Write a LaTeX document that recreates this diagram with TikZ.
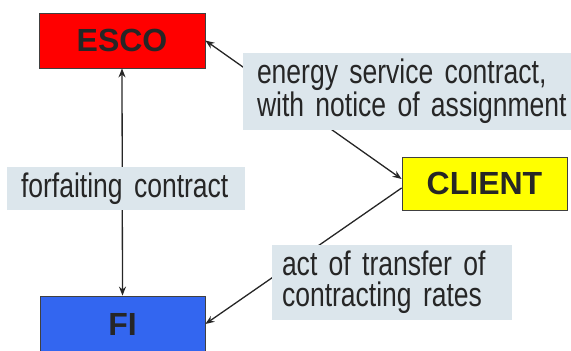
\documentclass[tikz,border=0pt]{standalone}
\usepackage{fontspec}
\setmainfont{Liberation Sans}
\newfontfamily\lblfont[FakeStretch=0.78,WordSpace=0.72]{Liberation Sans}
\usetikzlibrary{arrows.meta}
\definecolor{escored}{RGB}{255,0,0}
\definecolor{clientyellow}{RGB}{255,255,0}
\definecolor{fiblue}{RGB}{51,102,240}
\definecolor{labelfill}{RGB}{220,230,236}
\tikzset{
  entity/.style={draw=black!75, line width=0.8pt, inner sep=0pt,
    font=\fontsize{32}{36}\selectfont\bfseries, text=black!85},
  lbl/.style={fill=labelfill, draw=none, inner sep=0pt, align=left,
    font=\lblfont\fontsize{34}{31}\selectfont, text=black!85},
  conn/.style={line width=1.3pt, black!85, -{Stealth[length=9pt,width=7pt]}},
  conn2/.style={line width=1.3pt, black!85, {Stealth[length=9pt,width=7pt]}-{Stealth[length=9pt,width=7pt]}}
}
\begin{document}
\begin{tikzpicture}[x=1pt,y=1pt]
\useasboundingbox (0,0) rectangle (571,351);
% entities
\node[entity, fill=escored, minimum width=166pt, minimum height=55pt] (esco) at (122,310.5) {ESCO};
\node[entity, fill=clientyellow, minimum width=165pt, minimum height=53pt] (client) at (484.5,167.5) {CLIENT};
\node[entity, fill=fiblue, minimum width=165pt, minimum height=56pt] (fi) at (122.5,27) {FI};
% connectors (drawn before labels so the labels cover them)
\draw[conn2] (esco.south) -- (fi.north);
\draw[conn2] (esco.east) -- ([yshift=4.5pt]client.west);
\draw[conn] ([yshift=-4.5pt]client.west) -- (fi.east);
% labels
\node[lbl, minimum width=328pt, minimum height=77pt, text width=300pt] (l1) at (407,259.5)
  {\hbox{energy service contract,}\\\hbox{with notice of assignment}};
\node[lbl, minimum width=238pt, minimum height=43pt, text width=210pt] (l2) at (126,162.5)
  {\hbox{forfaiting contract}};
\node[lbl, minimum width=240pt, minimum height=75pt, text width=220pt] (l3) at (392,68.5)
  {\hbox{act of transfer of}\\\hbox{contracting rates}};
\end{tikzpicture}
\end{document}
